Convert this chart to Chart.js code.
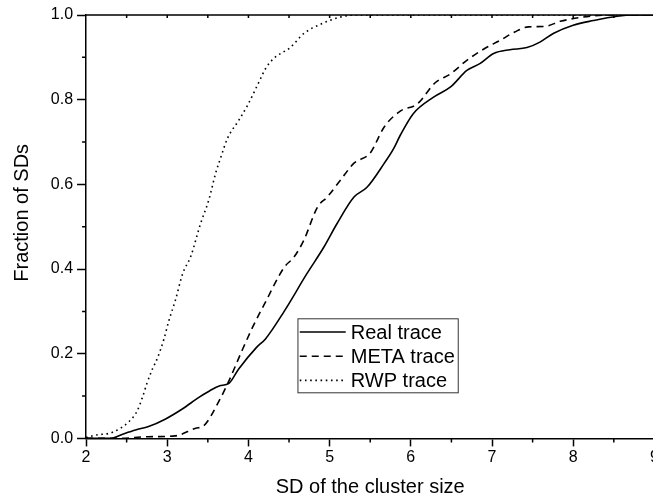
<!DOCTYPE html>
<html>
<head>
    <meta charset="utf-8">
    <title>Fraction of SDs</title>
    <style type="text/css">
        html, body {
            margin: 0;
            padding: 0;
            overflow: hidden;
            background: #fff;
        }

        #wrap {
            width: 670px;
            height: 502px;
        }
    </style>
</head>

<body>
    <div id="wrap"><canvas id="sdChart" width="670" height="502"></canvas></div>
    <script src="https://cdn.jsdelivr.net/npm/chart.js@4.4.0/dist/chart.umd.min.js"></script>
    <script>
        // values
        var realX = [2.0, 2.30, 2.45, 2.61, 2.77, 2.98, 3.19, 3.39, 3.52, 3.64, 3.76, 3.88, 4.10, 4.21, 4.44, 4.72, 4.93, 5.09, 5.30, 5.46, 5.67, 5.79, 5.87, 6.03, 6.28, 6.49, 6.69, 6.85, 7.02, 7.22, 7.43, 7.59, 7.76, 8.00, 8.25, 8.54, 8.74, 9.0];
        var realY = [0, 0, 0.010, 0.020, 0.028, 0.046, 0.070, 0.097, 0.112, 0.124, 0.130, 0.164, 0.215, 0.235, 0.300, 0.389, 0.452, 0.507, 0.570, 0.593, 0.649, 0.685, 0.716, 0.767, 0.806, 0.830, 0.869, 0.885, 0.909, 0.918, 0.923, 0.936, 0.957, 0.976, 0.987, 0.997, 1.0, 1.0];

        var metaX = [2.0, 2.40, 2.77, 3.10, 3.35, 3.45, 3.64, 3.76, 3.92, 4.05, 4.21, 4.44, 4.56, 4.68, 4.85, 4.97, 5.13, 5.30, 5.50, 5.67, 5.87, 6.08, 6.30, 6.49, 6.69, 6.92, 7.10, 7.28, 7.45, 7.65, 7.84, 8.08, 8.43, 9.0];
        var metaY = [0, 0, 0.004, 0.006, 0.024, 0.030, 0.089, 0.136, 0.207, 0.262, 0.322, 0.404, 0.428, 0.467, 0.546, 0.570, 0.609, 0.650, 0.674, 0.735, 0.773, 0.790, 0.840, 0.861, 0.893, 0.922, 0.940, 0.960, 0.972, 0.973, 0.985, 0.994, 1.0, 1.0];

        var rwpX = [2.0, 2.12, 2.32, 2.53, 2.63, 2.70, 2.75, 2.82, 2.88, 2.96, 3.02, 3.10, 3.19, 3.29, 3.41, 3.51, 3.60, 3.66, 3.74, 3.88, 3.99, 4.09, 4.15, 4.21, 4.31, 4.52, 4.68, 4.91, 5.11, 5.30, 9.0];
        var rwpY = [0.002, 0.008, 0.014, 0.040, 0.065, 0.100, 0.130, 0.165, 0.190, 0.235, 0.278, 0.326, 0.389, 0.430, 0.507, 0.562, 0.629, 0.664, 0.708, 0.751, 0.787, 0.826, 0.850, 0.873, 0.897, 0.924, 0.956, 0.980, 0.994, 1.0, 1.0];

        var seriesNames = ['Real trace', 'META trace', 'RWP trace'];
        var seriesDash = [[], [7, 5], [1.6, 3.6]];

        var FONT = 'Arial, "Liberation Sans", sans-serif';

        function toPoints(xs, ys) {
            return xs.map((x, i) => ({ x: x, y: ys[i] }));
        }

        var seriesPoints = [toPoints(realX, realY), toPoints(metaX, metaY), toPoints(rwpX, rwpY)];

        // minor ticks, top frame line and the boxed legend
        var framePlugin = {
            id: 'framePlugin',
            afterDraw(chart) {
                var ctx = chart.ctx;
                var a = chart.chartArea;
                var x = chart.scales.x;
                var y = chart.scales.y;
                ctx.save();
                ctx.strokeStyle = '#000';
                ctx.lineWidth = 1.5;
                ctx.beginPath();
                for (var v = 2.5; v < 9; v += 1) {
                    var px = x.getPixelForValue(v);
                    ctx.moveTo(px, a.bottom);
                    ctx.lineTo(px, a.bottom + 4);
                }
                for (var w = 0.1; w < 1; w += 0.2) {
                    var py = y.getPixelForValue(w);
                    ctx.moveTo(a.left - 4, py);
                    ctx.lineTo(a.left, py);
                }
                ctx.moveTo(a.left, a.top);
                ctx.lineTo(a.right, a.top);
                for (var t = 2.5; t < 9; t += 0.5) {
                    var tx = x.getPixelForValue(t);
                    ctx.moveTo(tx, a.top);
                    ctx.lineTo(tx, a.top + 3);
                }
                ctx.stroke();

                // legend box
                var bx = a.left + 211.4;
                var by = a.top + 303.3;
                ctx.lineWidth = 1;
                ctx.strokeStyle = '#333';
                ctx.fillStyle = '#fff';
                ctx.fillRect(bx, by, 160.3, 74);
                ctx.strokeRect(bx + 0.5, by + 0.5, 160.3, 74);
                ctx.font = '20px ' + FONT;
                ctx.textBaseline = 'middle';
                ctx.textAlign = 'left';
                chart.data.datasets.forEach((ds, i) => {
                    var ly = by + 13.7 + i * 24.2;
                    ctx.strokeStyle = '#000';
                    ctx.lineWidth = ds.borderWidth;
                    ctx.setLineDash(ds.borderDash);
                    ctx.beginPath();
                    ctx.moveTo(bx + 2.3, ly);
                    ctx.lineTo(bx + 48.3, ly);
                    ctx.stroke();
                    ctx.setLineDash([]);
                    ctx.fillStyle = '#000';
                    ctx.fillText(ds.label, bx + 53.3, ly + 1);
                });
                ctx.restore();
            }
        };

        new Chart(document.getElementById('sdChart').getContext('2d'), {
            type: 'line',
            data: {
                datasets: seriesNames.map((name, i) => ({
                    label: name,
                    data: seriesPoints[i],
                    borderColor: '#000',
                    borderWidth: 1.6,
                    borderDash: seriesDash[i],
                    pointRadius: 0,
                    fill: false,
                    cubicInterpolationMode: 'monotone'
                }))
            },
            options: {
                responsive: false,
                animation: false,
                devicePixelRatio: 1,
                layout: {
                    padding: { left: 4, top: 15, right: 15.6, bottom: 2 }
                },
                scales: {
                    x: {
                        type: 'linear',
                        min: 2,
                        max: 9,
                        ticks: {
                            stepSize: 1,
                            color: '#000',
                            padding: 2,
                            maxRotation: 0,
                            font: { family: FONT, size: 16 }
                        },
                        grid: {
                            drawOnChartArea: false,
                            tickLength: 8,
                            tickWidth: 1.5,
                            tickColor: '#000'
                        },
                        border: { color: '#000', width: 1.5 },
                        title: {
                            display: true,
                            text: 'SD of the cluster size',
                            color: '#000',
                            font: { family: FONT, size: 20 },
                            padding: { top: 5.8, bottom: 0.6 }
                        }
                    },
                    y: {
                        min: 0,
                        max: 1,
                        ticks: {
                            stepSize: 0.2,
                            color: '#000',
                            padding: 4,
                            font: { family: FONT, size: 16 },
                            callback: v => v.toFixed(1)
                        },
                        grid: {
                            drawOnChartArea: false,
                            tickLength: 9,
                            tickWidth: 1.5,
                            tickColor: '#000'
                        },
                        border: { color: '#000', width: 1.5 },
                        title: {
                            display: true,
                            text: '     Fraction of SDs',
                            color: '#000',
                            font: { family: FONT, size: 20 },
                            padding: { top: 6.5, bottom: 12.3 }
                        }
                    }
                },
                plugins: {
                    legend: { display: false },
                    tooltip: { enabled: false }
                }
            },
            plugins: [framePlugin]
        });
    </script>
</body>

</html>
